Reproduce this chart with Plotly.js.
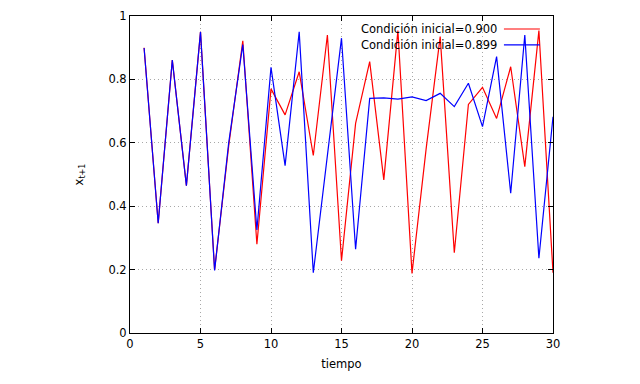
<!DOCTYPE html>
<html>
<head>
<meta charset="utf-8">
<script src="https://cdn.plot.ly/plotly-3.0.1.min.js"></script>
<style>html,body{margin:0;padding:0;background:#fff;}#chart{width:640px;height:384px;}</style>
</head>
<body>
<div id="chart"></div>
<script>
const tiempo = [1,2,3,4,5,6,7,8,9,10,11,12,13,14,15,16,17,18,19,20,21,22,23,24,25,26,27,28,29,30];
const serie090 = [0.900,0.346,0.861,0.465,0.950,0.199,0.590,0.922,0.280,0.770,0.688,0.824,0.560,0.940,0.228,0.661,0.856,0.483,0.954,0.188,0.580,0.935,0.253,0.721,0.775,0.677,0.840,0.525,0.954,0.190];
const serie0899 = [0.899,0.346,0.861,0.465,0.950,0.197,0.600,0.910,0.325,0.838,0.528,0.950,0.190,0.570,0.930,0.264,0.740,0.742,0.738,0.745,0.733,0.756,0.714,0.788,0.651,0.872,0.441,0.940,0.236,0.682];
const nombres = ['Condición inicial=0.900','Condición inicial=0.899'];
const colores = ['#ff0000','#0000ff'];
const xTicks = [0,5,10,15,20,25,30];
const yTicks = [0,0.2,0.4,0.6,0.8,1];
const yTickText = ['0','0.2','0.4','0.6','0.8','1'];

const font = {family:'DejaVu Sans, Verdana, sans-serif', size:11.5, color:'#000'};

const traces = [
  {x:tiempo, y:serie090, mode:'lines', name:nombres[0], line:{color:colores[0], width:1.2}},
  {x:tiempo, y:serie0899, mode:'lines', name:nombres[1], line:{color:colores[1], width:1.2}}
];

const axisCommon = {
  showline:true, mirror:'allticks', linecolor:'#000', linewidth:1,
  ticks:'inside', ticklen:5, tickcolor:'#000', tickwidth:1,
  showgrid:true, gridcolor:'#a8a8a8', griddash:'1px,3px', gridwidth:1,
  zeroline:false, tickfont:font
};

const annotations = [];
const shapes = [];
const legY = [0.959, 0.909];
for (let i = 0; i < 2; i++) {
  annotations.push({xref:'paper', yref:'paper', x:0.872, y:legY[i], xanchor:'right', yanchor:'middle',
    text:nombres[i], showarrow:false, font:font});
  shapes.push({type:'line', xref:'paper', yref:'paper', x0:0.884, x1:0.969, y0:legY[i], y1:legY[i],
    line:{color:colores[i], width:1.2}});
}

const layout = {
  width:640, height:384,
  margin:{l:130, r:87, t:16, b:51, pad:0},
  paper_bgcolor:'#fff', plot_bgcolor:'#fff',
  font:font,
  showlegend:false,
  xaxis:Object.assign({}, axisCommon, {range:[0,30], tickvals:xTicks, ticktext:xTicks.map(String),
    title:{text:'tiempo', font:font, standoff:10}}),
  yaxis:Object.assign({}, axisCommon, {range:[0,1], tickvals:yTicks, ticktext:yTickText,
    title:{text:'x<sub>t+1</sub>', font:font, standoff:22}}),
  annotations:annotations,
  shapes:shapes
};

Plotly.newPlot('chart', traces, layout, {staticPlot:true, displayModeBar:false});
</script>
</body>
</html>
